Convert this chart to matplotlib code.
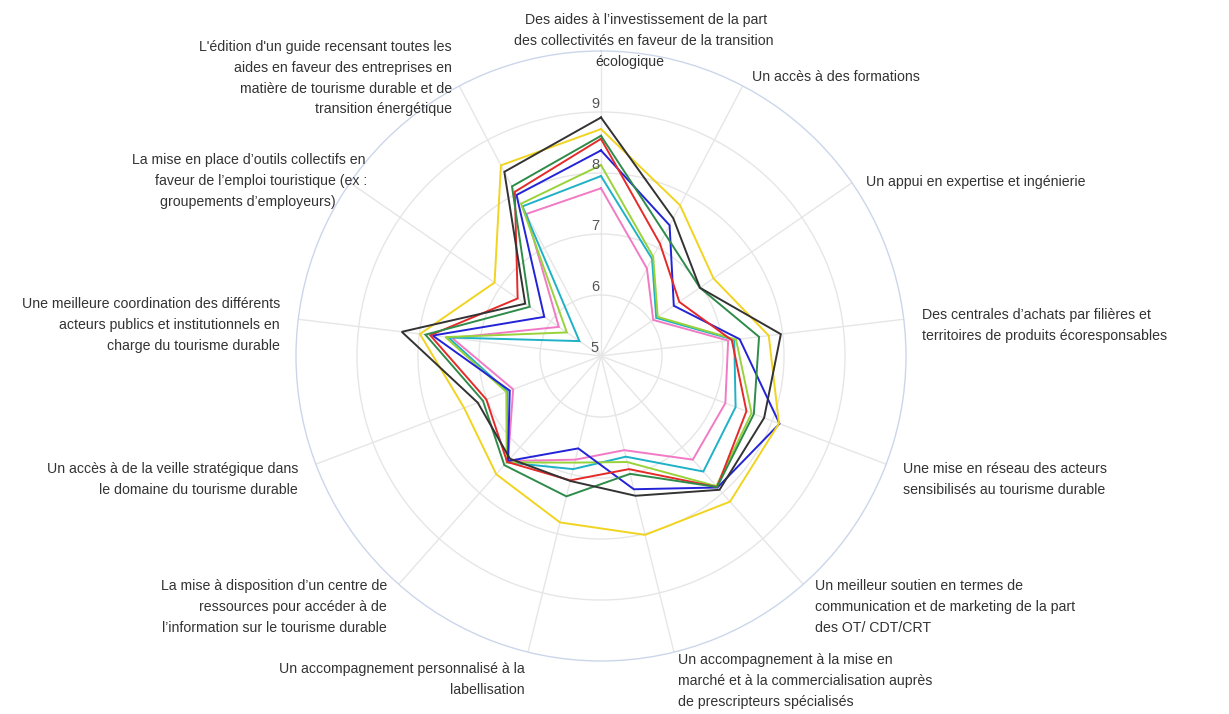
import numpy as np
import matplotlib
matplotlib.use("Agg")
import matplotlib.pyplot as plt
from matplotlib.transforms import offset_copy

# Axis categories (line breaks as displayed)
categories = [
    "Des aides à l’investissement de la part\ndes collectivités en faveur de la transition\nécologique",
    "Un accès à des formations",
    "Un appui en expertise et ingénierie",
    "Des centrales d’achats par filières et\nterritoires de produits écoresponsables",
    "Une mise en réseau des acteurs\nsensibilisés au tourisme durable",
    "Un meilleur soutien en termes de\ncommunication et de marketing de la part\ndes OT/ CDT/CRT",
    "Un accompagnement à la mise en\nmarché et à la commercialisation auprès\nde prescripteurs spécialisés",
    "Un accompagnement personnalisé à la\nlabellisation",
    "La mise à disposition d’un centre de\nressources pour accéder à de\nl’information sur le tourisme durable",
    "Un accès à de la veille stratégique dans\nle domaine du tourisme durable",
    "Une meilleure coordination des différents\nacteurs publics et institutionnels en\ncharge du tourisme durable",
    "La mise en place d’outils collectifs en\nfaveur de l’emploi touristique (ex :\ngroupements d’employeurs)",
    "L'édition d'un guide recensant toutes les\naides en faveur des entreprises en\nmatière de tourisme durable et de\ntransition énergétique",
]

tick_values = [5, 6, 7, 8, 9]
r_min, r_max = 5, 10

values_black = [8.91, 7.55, 6.97, 7.97, 7.86, 7.93, 7.36, 7.11, 7.25, 7.16, 8.29, 6.51, 8.41]
values_yellow = [8.72, 7.79, 7.24, 7.77, 8.12, 8.19, 8.02, 7.81, 7.59, 7.40, 7.99, 7.12, 8.53]
values_red = [8.56, 7.08, 6.56, 7.16, 7.55, 7.87, 6.91, 7.10, 7.32, 7.01, 7.82, 6.66, 8.04]
values_darkgreen = [8.61, 7.26, 6.97, 7.61, 7.68, 7.87, 6.99, 7.37, 7.39, 7.07, 7.90, 6.42, 8.14]
values_lime = [8.13, 6.84, 6.13, 7.23, 7.64, 7.85, 6.79, 6.80, 7.33, 6.66, 7.57, 5.68, 7.82]
values_blue = [8.37, 7.42, 6.45, 7.29, 8.13, 7.88, 7.25, 6.56, 7.30, 6.60, 7.78, 6.13, 7.98]
values_cyan = [7.95, 6.80, 6.10, 7.20, 7.36, 7.53, 6.70, 6.91, 7.33, 6.64, 7.52, 5.43, 7.77]
values_pink = [7.75, 6.62, 6.04, 7.10, 7.18, 7.27, 6.59, 6.75, 7.30, 6.54, 7.46, 5.84, 7.63]

series = [
    (values_pink, "#f27ac4"),
    (values_cyan, "#1fb1c6"),
    (values_lime, "#9ad23a"),
    (values_blue, "#2323d8"),
    (values_red, "#e52a2a"),
    (values_darkgreen, "#2e8b4a"),
    (values_yellow, "#f1d420"),
    (values_black, "#333333"),
]

# Per-line label anchors in pixels: (x, y of first line, alignment, per-line x overrides)
label_layout = [
    (646, 20, "center", [646, 644, 630]),
    (752, 77, "left", None),
    (866, 182, "left", None),
    (922, 315, "left", None),
    (903, 469, "left", None),
    (815, 586, "left", None),
    (678, 660, "left", None),
    (525, 669, "right", None),
    (387, 586, "right", None),
    (298, 469, "right", None),
    (280, 304, "right", None),
    (366, 160, "right", [366, 367, 336]),
    (452, 47, "right", None),
]
line_step = 20.8

W, H = 1229, 714
cx, cy, R = 601, 356, 305

fig = plt.figure(figsize=(W / 100, H / 100), dpi=100)
fig.patch.set_facecolor("white")
ax = fig.add_axes([(cx - R) / W, (H - cy - R) / H, 2 * R / W, 2 * R / H], polar=True)
ax.set_theta_zero_location("N")
ax.set_theta_direction(-1)
ax.set_facecolor("none")

n = len(categories)
theta = np.arange(n) * 2 * np.pi / n
ax.set_ylim(r_min, r_max)
ax.set_xticks(theta)
ax.set_xticklabels([])
ax.set_yticks(tick_values[1:])
ax.set_yticklabels([])
ax.tick_params(length=0)
ax.grid(color="#e6e6e6", linewidth=1.0)
ax.spines["polar"].set_color("#ccd6eb")
ax.spines["polar"].set_linewidth(1.0)

t_closed = np.r_[theta, theta[:1]]
for vals, col in series:
    v = np.asarray(vals, dtype=float)
    ax.plot(t_closed, np.r_[v, v[:1]], color=col, lw=1.4,
            solid_joinstyle="miter", zorder=3, clip_on=False)

# Radial tick labels along the top spoke
tick_tr = offset_copy(ax.transData, fig=fig, x=-6, y=8, units="dots")
for tv in tick_values:
    ax.text(0, tv, str(tv), transform=tick_tr, ha="center", va="center",
            fontsize=10.5, color="#555555", family="Liberation Sans", zorder=4)

# Category labels around the circle
for text, (x0, y0, ha, xs) in zip(categories, label_layout):
    for i, line in enumerate(text.split("\n")):
        x = xs[i] if xs else x0
        y = y0 + i * line_step
        fig.text(x / W, 1 - y / H, line, ha=ha, va="center",
                 fontsize=10.2, color="#333333", family="Liberation Sans")

fig.savefig("out.png", dpi=100, facecolor="white")
